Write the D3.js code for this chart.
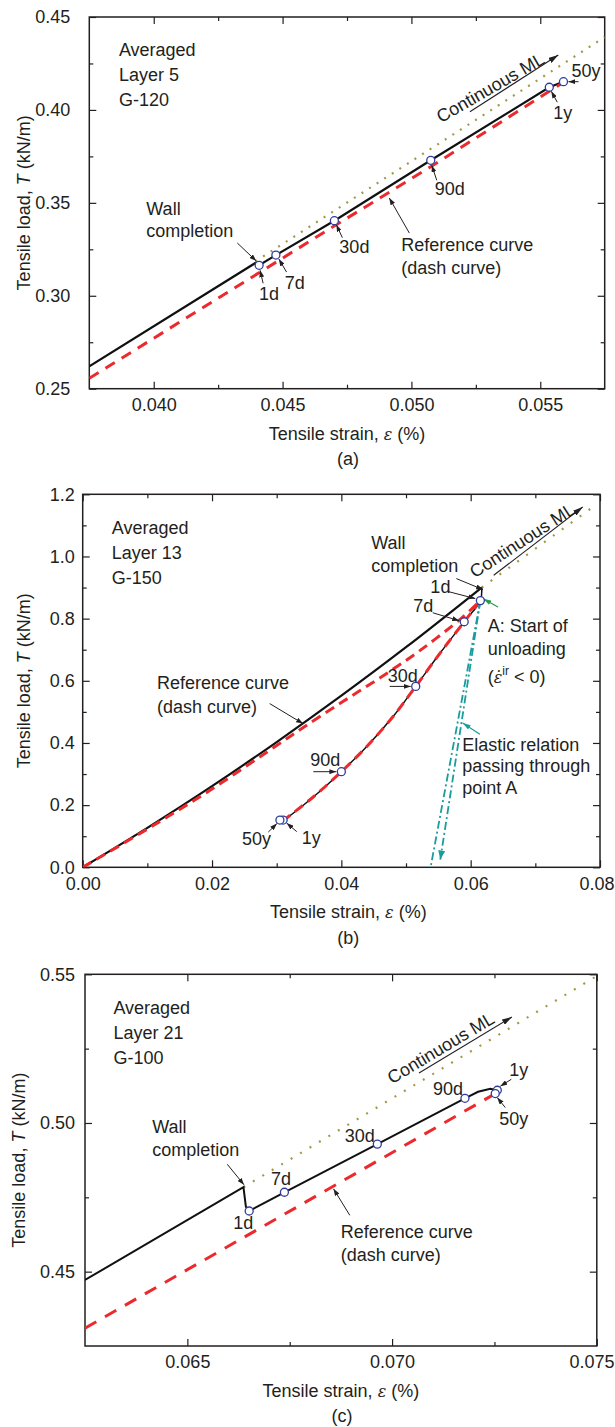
<!DOCTYPE html>
<html>
<head>
<meta charset="utf-8">
<script src="https://cdn.jsdelivr.net/npm/d3@7"></script>
<style>
  body { margin: 0; background: #fff; }
  svg { display: block; }
  .tick text, .lab { font-family: "Liberation Sans", Arial, sans-serif; font-size: 18px; fill: #231f20; }
  .greek { font-family: "DejaVu Serif", "Liberation Serif", serif; font-style: italic; font-size: 16px; }
</style>
</head>
<body>
<svg id="fig" width="615" height="1427"></svg>
<script>
// ---------- (a) Layer 5, G-120 ----------
var aXTicks = [0.040, 0.045, 0.050, 0.055];
var aXMinor = [0.0425, 0.0475, 0.0525];
var aYTicks = [0.25, 0.30, 0.35, 0.40, 0.45];
var aYMinor = [0.275, 0.325, 0.375, 0.425];
var aInfo = ["Averaged", "Layer 5", "G-120"];
var aSolidStrain = [0.0375, 0.04395, 0.04409, 0.04474, 0.04701, 0.05075, 0.05535, 0.0559];
var aSolidLoad = [0.262, 0.3177, 0.3164, 0.3219, 0.3404, 0.3729, 0.4122, 0.4152];
var aRefStrain = [0.0375, 0.0441, 0.0470, 0.0507, 0.0558];
var aRefLoad = [0.2556, 0.3125, 0.3375, 0.3690, 0.4140];
var aMLStrain = [0.04395, 0.0575];
var aMLLoad = [0.3185, 0.4392];
var aAges = ["1d", "7d", "30d", "90d", "1y", "50y"];
var aAgeStrain = [0.04409, 0.04474, 0.04701, 0.05075, 0.05535, 0.0559];
var aAgeLoad = [0.3164, 0.3219, 0.3404, 0.3729, 0.4122, 0.4152];

// ---------- (b) Layer 13, G-150 ----------
var bXTicks = [0, 0.02, 0.04, 0.06, 0.08];
var bXMinor = [0.01, 0.03, 0.05, 0.07];
var bYTicks = [0, 0.2, 0.4, 0.6, 0.8, 1.0, 1.2];
var bYMinor = [0.1, 0.3, 0.5, 0.7, 0.9, 1.1];
var bInfo = ["Averaged", "Layer 13", "G-150"];
var bLoadStrain = [0, 0.01, 0.02, 0.03, 0.04, 0.05, 0.0617];
var bLoadLoad = [0, 0.127, 0.261, 0.403, 0.552, 0.708, 0.900];
var bUnloadStrain = [0.0617, 0.0615, 0.0590, 0.0553, 0.0515, 0.0480, 0.0439, 0.0400, 0.0357, 0.0315, 0.0310, 0.0305];
var bUnloadLoad = [0.900, 0.858, 0.790, 0.690, 0.582, 0.485, 0.388, 0.3076, 0.227, 0.158, 0.152, 0.152];
var bRefUpStrain = [0, 0.01, 0.02, 0.03, 0.034, 0.04, 0.046, 0.052, 0.0585, 0.0615];
var bRefUpLoad = [0, 0.123, 0.252, 0.392, 0.448, 0.530, 0.610, 0.695, 0.800, 0.858];
var bRefDownStrain = [0.0615, 0.0590, 0.0553, 0.0515, 0.0480, 0.0439, 0.0400, 0.0357, 0.0315];
var bRefDownLoad = [0.858, 0.790, 0.690, 0.582, 0.485, 0.388, 0.3076, 0.227, 0.158];
var bMLStrain = [0.0617, 0.0795];
var bMLLoad = [0.900, 1.168];
var bElasticStrain = [0.0615, 0.0538];
var bElasticLoad = [0.858, 0];
var bElasticArrowStrain = [0.0615, 0.0553];
var bElasticArrowLoad = [0.858, 0.025];
var bAges = ["1d", "7d", "30d", "90d", "1y", "50y"];
var bAgeStrain = [0.0615, 0.0590, 0.0515, 0.0400, 0.0310, 0.0305];
var bAgeLoad = [0.858, 0.790, 0.582, 0.3076, 0.152, 0.152];

// ---------- (c) Layer 21, G-100 ----------
var cXTicks = [0.065, 0.070, 0.075];
var cXMinor = [0.0675, 0.0725];
var cYTicks = [0.45, 0.50, 0.55];
var cYMinor = [0.475, 0.525];
var cInfo = ["Averaged", "Layer 21", "G-100"];
var cSolidStrain = [0.0625, 0.06637, 0.06643, 0.06651, 0.06737, 0.06964, 0.07178, 0.0721, 0.0724, 0.07257, 0.07252];
var cSolidLoad = [0.4472, 0.4784, 0.4718, 0.4704, 0.4767, 0.4929, 0.5083, 0.5105, 0.5115, 0.5110, 0.5099];
var cRefStrain = [0.0625, 0.0725];
var cRefLoad = [0.4310, 0.5097];
var cMLStrain = [0.06637, 0.07495];
var cMLLoad = [0.4784, 0.5490];
var cAges = ["1d", "7d", "30d", "90d", "1y", "50y"];
var cAgeStrain = [0.06651, 0.06737, 0.06964, 0.07178, 0.07257, 0.07252];
var cAgeLoad = [0.4704, 0.4767, 0.4929, 0.5083, 0.5110, 0.5099];

var INK = "#231f20", RED = "#ec2a2e", OLIVE = "#a09a45", BLUE = "#2e3c9e";
var TEAL = "#1a9c9c", GREEN = "#229e4c";
var PAGE_W = 615;

var svg = d3.select("#fig");
var defs = svg.append("defs");

function marker(id, color, len, wid) {
  defs.append("marker").attr("id", id)
    .attr("viewBox", "0 0 " + len + " " + wid)
    .attr("refX", len).attr("refY", wid / 2)
    .attr("markerWidth", len).attr("markerHeight", wid)
    .attr("markerUnits", "userSpaceOnUse")
    .attr("orient", "auto")
    .append("path")
    .attr("d", "M0,0L" + len + "," + wid / 2 + "L0," + wid + "Z")
    .attr("fill", color);
}
marker("ah", INK, 7, 5);
marker("ahBig", INK, 10, 6);
marker("ahGreen", GREEN, 8, 5);
marker("ahTeal", TEAL, 8, 5);
marker("ahTealBig", TEAL, 9, 7);

function arrow(g, x1, y1, x2, y2, color, mk, w) {
  g.append("line")
    .attr("x1", x1).attr("y1", y1).attr("x2", x2).attr("y2", y2)
    .attr("stroke", color || INK).attr("stroke-width", w || 1)
    .attr("marker-end", "url(#" + (mk || "ah") + ")");
}

function lines(g, x, y, arr, lh) {
  var t = g.append("text").attr("class", "lab");
  arr.forEach(function(s, i) {
    t.append("tspan").attr("x", x).attr("y", y + i * lh).text(s);
  });
  return t;
}

function drawPanel(p) {
  var g = svg.append("g").attr("transform", "translate(" + p.left + "," + p.top + ")");
  var x = d3.scaleLinear().domain(p.xDomain).range([0, p.width]);
  var y = d3.scaleLinear().domain(p.yDomain).range([p.height, 0]);
  var line = d3.line().x(function(d) { return x(d[0]); }).y(function(d) { return y(d[1]); });

  g.append("clipPath").attr("id", "clip-" + p.id)
    .append("rect").attr("width", p.width).attr("height", p.height);

  // ticks point inward on all four sides
  function ax(gen, vals, size, tr, fmt, pad) {
    var a = g.append("g").attr("class", "axis");
    if (tr) a.attr("transform", tr);
    a.call(gen.tickValues(vals).tickSize(-size).tickSizeOuter(0)
      .tickPadding(pad || 3).tickFormat(fmt ? d3.format(fmt) : ""));
    a.select(".domain").remove();
    a.attr("color", INK).attr("font-size", null).attr("font-family", null);
    a.selectAll(".tick line").attr("stroke-width", 1.2);
    return a;
  }
  var bt = "translate(0," + p.height + ")", rt = "translate(" + p.width + ",0)";
  ax(d3.axisBottom(x), p.xMinor, 4, bt);
  ax(d3.axisTop(x), p.xMinor, 4);
  ax(d3.axisLeft(y), p.yMinor, 4);
  ax(d3.axisRight(y), p.yMinor, 4, rt);
  var xa = ax(d3.axisBottom(x), p.xTicks, 7, bt, p.xFmt, p.xPad);
  ax(d3.axisTop(x), p.xTicks, 7);
  ax(d3.axisLeft(y), p.yTicks, 7, null, p.yFmt, p.yPad);
  ax(d3.axisRight(y), p.yTicks, 7, rt);

  // keep the last tick label inside the page
  xa.selectAll(".tick text").each(function(d) {
    var w = this.getComputedTextLength();
    var right = p.left + x(d) + w / 2;
    if (right > PAGE_W - 1) d3.select(this).attr("dx", (PAGE_W - 1 - right));
  });

  g.append("rect").attr("width", p.width).attr("height", p.height)
    .attr("fill", "none").attr("stroke", INK).attr("stroke-width", 1.5);

  // axis titles
  var xt = g.append("text").attr("class", "lab").attr("text-anchor", "middle")
    .attr("x", p.width / 2 + p.xTitleDx).attr("y", p.height + 51);
  xt.append("tspan").text("Tensile strain, ");
  xt.append("tspan").attr("class", "greek").text("\u03b5");
  xt.append("tspan").text(" (%)");

  var yt = g.append("text").attr("class", "lab").attr("text-anchor", "middle")
    .attr("transform", "translate(" + p.yTitleX + "," + p.height / 2 + ") rotate(-90)")
    .attr("dy", "0.35em");
  yt.append("tspan").text("Tensile load, ");
  yt.append("tspan").attr("font-style", "italic").text("T");
  yt.append("tspan").text(" (kN/m)");

  g.append("text").attr("class", "lab").attr("text-anchor", "middle")
    .attr("x", p.width / 2 + p.capDx).attr("y", p.height + 76.5).text(p.caption);

  // curves
  var plot = g.append("g").attr("clip-path", "url(#clip-" + p.id + ")");
  p.series.forEach(function(s) {
    var path = plot.append("path")
      .datum(d3.zip(s.strain, s.load))
      .attr("fill", "none")
      .attr("stroke", s.color)
      .attr("stroke-width", s.width)
      .attr("d", line.curve(s.smooth ? d3.curveCatmullRom.alpha(0.5) : d3.curveLinear));
    if (s.dash) path.attr("stroke-dasharray", s.dash);
    if (s.marker) path.attr("marker-end", "url(#" + s.marker + ")");
  });

  // notes
  lines(g, p.info[0], p.info[1], p.infoText, p.info[2]);
  lines(g, p.wall[0], p.wall[1], ["Wall", "completion"], p.wall[2]);
  arrow(g, p.wallArrow[0], p.wallArrow[1], p.wallArrow[2], p.wallArrow[3]);
  lines(g, p.ref[0], p.ref[1], ["Reference curve", "(dash curve)"], p.ref[2]);
  arrow(g, p.refArrow[0], p.refArrow[1], p.refArrow[2], p.refArrow[3]);

  g.append("text").attr("class", "lab").attr("text-anchor", "middle").attr("dy", "0.35em")
    .attr("transform", "translate(" + p.ml[0] + "," + p.ml[1] + ") rotate(" + p.ml[2] + ")")
    .text("Continuous ML");
  arrow(g, p.mlArrow[0], p.mlArrow[1], p.mlArrow[2], p.mlArrow[3], INK, "ahBig", 1.1);

  if (p.extra) p.extra(g, x, y);

  // age labels and markers
  p.ages.forEach(function(name, i) {
    var px = x(p.ageStrain[i]), py = y(p.ageLoad[i]), L = p.ageLayout[i];
    g.append("text").attr("class", "lab").attr("x", px + L[0]).attr("y", py + L[1]).text(name);
    if (L.length > 2) arrow(g, px + L[2], py + L[3], px + L[4], py + L[5]);
  });
  g.selectAll("circle.age").data(d3.zip(p.ageStrain, p.ageLoad)).enter()
    .append("circle").attr("class", "age")
    .attr("cx", function(d) { return x(d[0]); })
    .attr("cy", function(d) { return y(d[1]); })
    .attr("r", 4).attr("fill", "#fff").attr("stroke", BLUE).attr("stroke-width", 1.3);
}

drawPanel({
  id: "a", caption: "(a)", left: 89.3, top: 17, width: 515.4, height: 371.7,
  xDomain: [0.0375, 0.0575], yDomain: [0.25, 0.45],
  xTicks: aXTicks, xMinor: aXMinor, yTicks: aYTicks, yMinor: aYMinor,
  xFmt: ".3f", yFmt: ".2f", xPad: 9.5, yPad: 19, xTitleDx: 0, yTitleX: -65.8, capDx: 1,
  series: [
    { strain: aMLStrain, load: aMLLoad, color: OLIVE, width: 2.2, dash: "2,7" },
    { strain: aSolidStrain, load: aSolidLoad, color: "#111", width: 2.2 },
    { strain: aRefStrain, load: aRefLoad, color: RED, width: 3, dash: "11,8" }
  ],
  infoText: aInfo, info: [29.6, 39, 25],
  wall: [57, 198, 22.3], wallArrow: [148, 226, 167, 244],
  ref: [312, 234, 23], refArrow: [320, 216, 300, 181],
  ml: [401, 70.5, -30], mlArrow: [380.6, 94.7, 469, 38],
  ages: aAges, ageStrain: aAgeStrain, ageLoad: aAgeLoad,
  ageLayout: [[0, 35, 4, 18, 1, 5], [9, 34, 10.7, 17, 3, 4], [5, 32, 8, 17, 2, 4],
              [4, 35, 6, 20, 1, 5], [4, 32, 8, 15, 2, 4], [8, -5, 15, 0, 5, 0]]
});

drawPanel({
  id: "b", caption: "(b)", left: 82.7, top: 494.3, width: 517.3, height: 373,
  xDomain: [0, 0.08], yDomain: [0, 1.2],
  xTicks: bXTicks, xMinor: bXMinor, yTicks: bYTicks, yMinor: bYMinor,
  xFmt: ".2f", yFmt: ".1f", xPad: 10, yPad: 8, xTitleDx: 7, yTitleX: -59.2, capDx: 7,
  series: [
    { strain: bMLStrain, load: bMLLoad, color: OLIVE, width: 2.2, dash: "2,9" },
    { strain: bLoadStrain, load: bLoadLoad, color: "#111", width: 2.2, smooth: true },
    { strain: bUnloadStrain, load: bUnloadLoad, color: "#111", width: 1.5, smooth: true },
    { strain: bRefUpStrain, load: bRefUpLoad, color: RED, width: 3, dash: "10,6", smooth: true },
    { strain: bRefDownStrain, load: bRefDownLoad, color: RED, width: 3, dash: "10,6", smooth: true },
    { strain: bElasticStrain, load: bElasticLoad, color: TEAL, width: 1.8, dash: "8,3,2,3" },
    { strain: bElasticArrowStrain, load: bElasticArrowLoad, color: TEAL, width: 1.8, dash: "8,3,2,3", marker: "ahTealBig" }
  ],
  infoText: bInfo, info: [29, 40, 25],
  wall: [288.5, 54.3, 23.4], wallArrow: [373.7, 84.3, 400.3, 95.3],
  ref: [74.3, 194.3, 24], refArrow: [187, 209.3, 220.3, 229.3],
  ml: [439.5, 46, -33], mlArrow: [411, 81, 500, 12.7],
  extra: function(g) {
    var t = g.append("text").attr("class", "lab");
    t.append("tspan").attr("x", 405).attr("y", 137.7).text("A: Start of");
    t.append("tspan").attr("x", 405).attr("y", 160.3).text("unloading");
    var l3 = g.append("text").attr("class", "lab").attr("x", 405).attr("y", 189);
    l3.append("tspan").text("(");
    l3.append("tspan").attr("class", "greek").text("\u03b5\u0307");
    l3.append("tspan").attr("font-size", 12).attr("dy", -8).text("ir");
    l3.append("tspan").attr("dy", 8).text(" < 0)");
    arrow(g, 415.3, 112.7, 400.5, 104.5, GREEN, "ahGreen", 1.2);
    lines(g, 379.5, 256.4, ["Elastic relation", "passing through", "point A"], 21.7);
    arrow(g, 397.2, 240, 380, 228.6, TEAL, "ahTeal", 1.2);
  },
  ages: bAges, ageStrain: bAgeStrain, ageLoad: bAgeLoad,
  ageLayout: [[-50, -8, -32, -9, -5, -2], [-51, -10, -31.5, -9, -5, -1], [-28, -4.7, -26, 0, -5, 0],
              [-31, -6, -28, 0, -5, 0], [18.6, 24, 13.6, 11.6, 3.5, 3], [-38, 25, -11.6, 12, -3, 3.5]]
});

drawPanel({
  id: "c", caption: "(c)", left: 85, top: 974.3, width: 511.8, height: 371.7,
  xDomain: [0.0625, 0.075], yDomain: [0.425, 0.55],
  xTicks: cXTicks, xMinor: cXMinor, yTicks: cYTicks, yMinor: cYMinor,
  xFmt: ".3f", yFmt: ".2f", xPad: 9.5, yPad: 10, xTitleDx: 0, yTitleX: -66.2, capDx: 1,
  series: [
    { strain: cMLStrain, load: cMLLoad, color: OLIVE, width: 2.2, dash: "2,9" },
    { strain: cSolidStrain, load: cSolidLoad, color: "#111", width: 2 },
    { strain: cRefStrain, load: cRefLoad, color: RED, width: 3, dash: "13,10" }
  ],
  infoText: cInfo, info: [28.4, 40, 24.7],
  wall: [67.2, 158.7, 23.3], wallArrow: [142.3, 190, 159, 210.5],
  ref: [255.7, 263.7, 23.3], refArrow: [264.8, 241, 248.5, 214.5],
  ml: [355.7, 73.5, -31], mlArrow: [334, 98.7, 426.9, 42.7],
  ages: cAges, ageStrain: cAgeStrain, ageLoad: cAgeLoad,
  ageLayout: [[-16, 18.3], [-13.5, -7], [-32.5, -2.3], [-32, -3],
              [12, -14, 14, -11, 3, -4], [4, 31, 10, 14, 2, 4]]
});
</script>
</body>
</html>
